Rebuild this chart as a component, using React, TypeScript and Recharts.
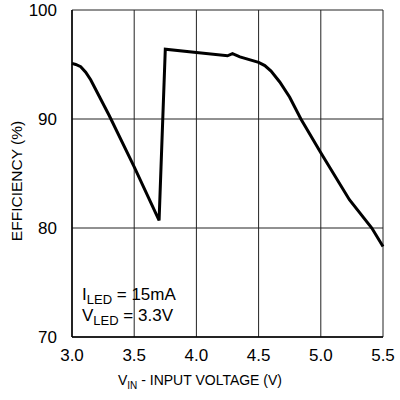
import * as React from 'react'
import { LineChart, Line, XAxis, YAxis, CartesianGrid } from 'recharts'

const vin = [3.0, 3.03, 3.07, 3.11, 3.15, 3.3, 3.5, 3.7, 3.75, 4.0, 4.25, 4.29, 4.35, 4.5, 4.55, 4.6, 4.67, 4.75, 4.84, 5.0, 5.23, 5.41, 5.5]
const efficiency = [95.1, 95.0, 94.8, 94.3, 93.6, 90.3, 85.6, 80.7, 96.4, 96.1, 95.8, 96.0, 95.7, 95.2, 94.9, 94.4, 93.4, 92.0, 90.0, 86.9, 82.6, 80.0, 78.3]
const xTicks = [3.0, 3.5, 4.0, 4.5, 5.0, 5.5]
const yTicks = [70, 80, 90, 100]

const data = vin.map((v, i) => ({ vin: v, eff: efficiency[i] }))

const FONT = 'Liberation Sans, Arial, sans-serif'

const XTitle = () => (
  <text x={200} y={385} textAnchor="middle" fontFamily={FONT} fontSize={14} fill="#000">
    V
    <tspan fontSize={10} dy={4}>IN</tspan>
    <tspan dy={-4}> - INPUT VOLTAGE (V)</tspan>
  </text>
)

const YTitle = () => (
  <text
    x={22}
    y={181}
    transform="rotate(-90 22 181)"
    textAnchor="middle"
    fontFamily={FONT}
    fontSize={15.5}
    fill="#000"
  >
    EFFICIENCY (%)
  </text>
)

export default function App() {
  return (
    <div style={{ position: 'absolute', left: 0, top: 0, width: 400, height: 400, background: '#fff' }}>
      <LineChart width={400} height={400} data={data} margin={{ top: 10, right: 17, bottom: 13, left: 0 }}>
        <CartesianGrid stroke="#222" strokeWidth={1} horizontalValues={yTicks} verticalValues={xTicks} />
        <XAxis
          dataKey="vin"
          type="number"
          domain={[3, 5.5]}
          ticks={xTicks}
          tickFormatter={(v: number) => v.toFixed(1)}
          tickLine={false}
          axisLine={{ stroke: '#000', strokeWidth: 1.5 }}
          tick={{ fill: '#000', fontSize: 17, fontFamily: FONT }}
          tickMargin={6}
          height={50}
          label={{ content: () => <XTitle /> }}
        />
        <YAxis
          type="number"
          domain={[70, 100]}
          ticks={yTicks}
          tickLine={false}
          axisLine={{ stroke: '#000', strokeWidth: 1.5 }}
          tick={{ fill: '#000', fontSize: 17, fontFamily: FONT }}
          tickMargin={9}
          width={72}
          label={{ content: () => <YTitle /> }}
        />
        <Line
          dataKey="eff"
          type="linear"
          stroke="#000"
          strokeWidth={3}
          dot={false}
          isAnimationActive={false}
        />
      </LineChart>
      <div style={{ position: 'absolute', left: 82, top: 284, fontFamily: FONT, fontSize: 17, lineHeight: '21px', color: '#000' }}>
        <div>I<sub style={{ fontSize: 13, lineHeight: 0 }}>LED</sub> = 15mA</div>
        <div>V<sub style={{ fontSize: 13, lineHeight: 0 }}>LED</sub> = 3.3V</div>
      </div>
    </div>
  )
}
